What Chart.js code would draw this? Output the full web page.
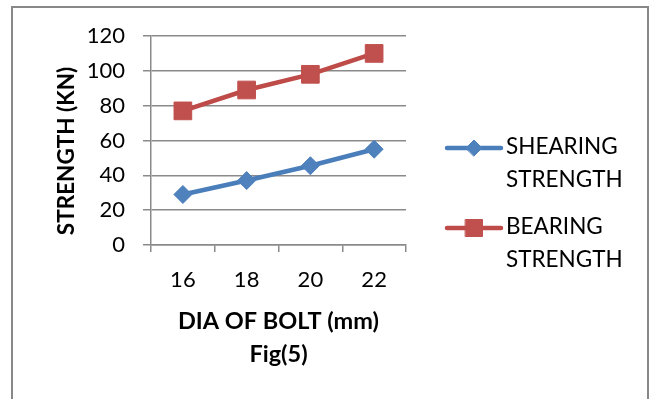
<!DOCTYPE html>
<html>
<head>
<meta charset="utf-8">
<script src="https://cdn.jsdelivr.net/npm/chart.js@4/dist/chart.umd.min.js"></script>
<style>
  html, body { margin: 0; padding: 0; background: #fff; }
  canvas { display: block; }
</style>
</head>
<body>
<canvas id="c" width="649" height="399"></canvas>
<script>
// Bolt diameters (mm) and the resulting strengths (kN)
const boltDiameters = ['16', '18', '20', '22'];
const shearingStrength = [29, 37, 45.5, 55];
const bearingStrength = [77, 89, 98, 110];
const yTicks = [0, 20, 40, 60, 80, 100, 120];

const seriesNames = [['SHEARING', 'STRENGTH'], ['BEARING', 'STRENGTH']];
const xTitleLines = ['DIA OF BOLT (mm)', 'Fig(5)'];
const yTitle = 'STRENGTH (KN)';

const FONT = 'Lato, "Open Sans", sans-serif';
const GRID = '#8a8a8a';

// Frame, axis titles and the two-line legend
const decorations = {
  id: 'decorations',
  beforeDraw(chart) {
    const ctx = chart.ctx;
    ctx.save();
    ctx.fillStyle = '#fff';
    ctx.fillRect(0, 0, chart.width, chart.height);
    ctx.restore();
  },
  afterDraw(chart) {
    const ctx = chart.ctx;
    const area = chart.chartArea;
    ctx.save();
    // outer frame
    ctx.strokeStyle = '#888';
    ctx.lineWidth = 2;
    ctx.strokeRect(12, 7, 636, 420);

    // y title
    ctx.fillStyle = '#000';
    ctx.font = 'bold 22.5px ' + FONT;
    ctx.textAlign = 'center';
    ctx.textBaseline = 'middle';
    ctx.save();
    ctx.translate(67, 151);
    ctx.rotate(-Math.PI / 2);
    ctx.fillText(yTitle, 0, 0);
    ctx.restore();

    // x title (two lines)
    ctx.font = 'bold 23.5px ' + FONT;
    const cx = (area.left + area.right) / 2;
    ctx.fillText(xTitleLines[0], cx, 321);
    ctx.fillText(xTitleLines[1], cx, 354);

    // legend
    const rowY = [148, 228];
    chart.data.datasets.forEach((ds, i) => {
      const y = rowY[i];
      ctx.strokeStyle = ds.borderColor;
      ctx.lineWidth = 4.5;
      ctx.lineCap = 'round';
      ctx.beginPath();
      ctx.moveTo(447, y);
      ctx.lineTo(501, y);
      ctx.stroke();
      ctx.fillStyle = ds.pointBackgroundColor;
      ctx.strokeStyle = ds.pointBackgroundColor;
      ctx.lineWidth = 1;
      Chart.helpers.drawPoint(ctx, {
        pointStyle: ds.pointStyle,
        radius: ds.pointStyle === 'rect' ? 12 : 8,
        rotation: 0,
        borderWidth: 1
      }, 474, y);
      ctx.fillStyle = '#000';
      ctx.font = '22.5px ' + FONT;
      ctx.textAlign = 'left';
      ctx.textBaseline = 'middle';
      seriesNames[i].forEach((line, j) => {
        ctx.fillText(line, 506, y - 1 + j * 33);
      });
    });
    ctx.restore();
  }
};

new Chart(document.getElementById('c'), {
  type: 'line',
  data: {
    labels: boltDiameters,
    datasets: [
      {
        label: seriesNames[0].join(' '),
        data: shearingStrength,
        borderColor: '#4A7EBB',
        backgroundColor: '#4F81BD',
        pointBackgroundColor: '#4F81BD',
        pointBorderColor: '#4F81BD',
        pointStyle: 'rectRot',
        pointRadius: 9,
        pointBorderWidth: 1,
        borderWidth: 4.5,
        tension: 0
      },
      {
        label: seriesNames[1].join(' '),
        data: bearingStrength,
        borderColor: '#BE4B48',
        backgroundColor: '#C0504D',
        pointBackgroundColor: '#C0504D',
        pointBorderColor: '#C0504D',
        pointStyle: 'rect',
        pointRadius: 12.5,
        pointBorderWidth: 1,
        borderWidth: 4.5,
        tension: 0
      }
    ]
  },
  options: {
    responsive: false,
    animation: false,
    events: [],
    layout: { padding: { left: 0, top: 36, right: 243, bottom: 54 } },
    plugins: {
      legend: { display: false },
      tooltip: { enabled: false }
    },
    scales: {
      x: {
        offset: true,
        grid: {
          offset: true,
          drawOnChartArea: false,
          drawTicks: true,
          tickLength: 7,
          color: GRID,
          lineWidth: 1.5
        },
        border: { display: true, color: GRID, width: 1.5 },
        ticks: {
          color: '#000',
          font: { family: FONT, size: 22 },
          padding: 15,
          maxRotation: 0
        },
        afterFit(scale) { scale.height = 100; }
      },
      y: {
        min: 0,
        max: 120,
        afterBuildTicks(scale) { scale.ticks = yTicks.map(v => ({ value: v })); },
        grid: {
          drawTicks: true,
          tickLength: 8,
          color: GRID,
          lineWidth: 1.5
        },
        border: { display: true, color: GRID, width: 1.5 },
        ticks: {
          color: '#000',
          font: { family: FONT, size: 22 },
          padding: 18
        },
        afterFit(scale) { scale.width = 151; }
      }
    }
  },
  plugins: [decorations]
});
</script>
</body>
</html>
